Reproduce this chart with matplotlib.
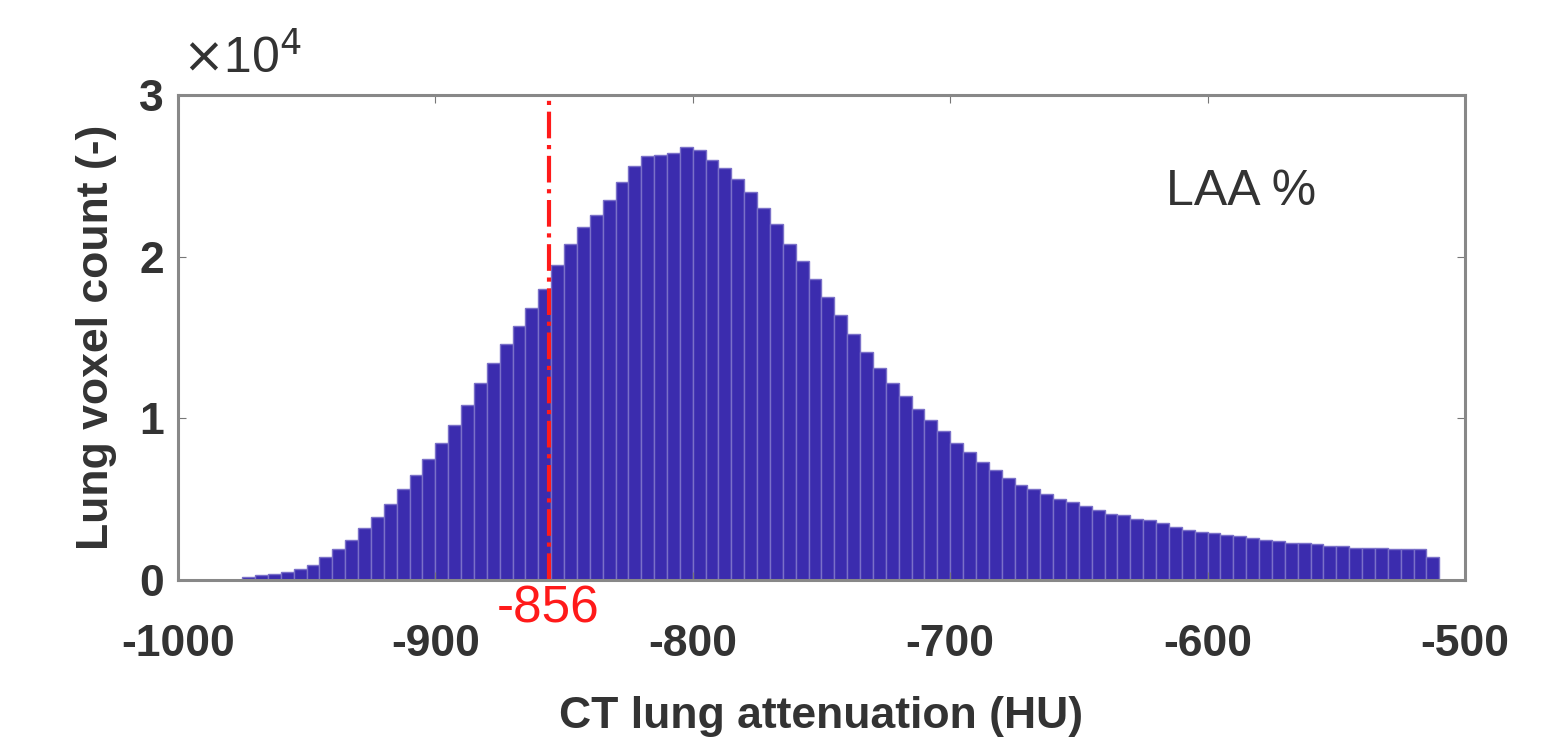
import numpy as np
import matplotlib.pyplot as plt

# Histogram of lung attenuation, 5 HU bins starting at -975 HU
bin_start = -975
bin_width = 5
counts = [0.02, 0.03, 0.04, 0.05, 0.07, 0.09, 0.14, 0.19, 0.25, 0.32,
          0.39, 0.47, 0.56, 0.65, 0.75, 0.85, 0.96, 1.08, 1.22, 1.34,
          1.46, 1.57, 1.68, 1.80, 1.95, 2.08, 2.18, 2.26, 2.35, 2.46,
          2.56, 2.62, 2.63, 2.64, 2.68, 2.66, 2.60, 2.55, 2.48, 2.40,
          2.30, 2.20, 2.08, 1.97, 1.86, 1.75, 1.64, 1.52, 1.41, 1.31,
          1.22, 1.14, 1.06, 0.99, 0.92, 0.85, 0.79, 0.73, 0.68, 0.63,
          0.59, 0.56, 0.53, 0.50, 0.48, 0.46, 0.43, 0.41, 0.40, 0.38,
          0.37, 0.35, 0.33, 0.31, 0.30, 0.29, 0.28, 0.27, 0.26, 0.25,
          0.24, 0.23, 0.23, 0.22, 0.21, 0.21, 0.20, 0.20, 0.20, 0.19,
          0.19, 0.19, 0.14]  # x 1e4 voxels
threshold = -856
xticks = [-1000, -900, -800, -700, -600, -500]
yticks = [0, 1, 2, 3]

counts = np.array(counts) * 1e4
left_edges = bin_start + bin_width * np.arange(len(counts))

plt.rcParams['font.family'] = ['Liberation Sans', 'DejaVu Sans']

fig = plt.figure(figsize=(15.47, 7.46), dpi=100)
ax = fig.add_axes([0.115, 0.2225, 0.832, 0.6503])

ax.bar(left_edges, counts, width=bin_width, align='edge',
       color='#3b2cae', edgecolor='#7a70c8', linewidth=1.0)

# threshold marker
ax.axvline(threshold, color='#ff1a1a', linestyle='-.', linewidth=3)
ax.text(threshold, -0.03e4, str(threshold), color='#ff1a1a', fontsize=37,
        ha='center', va='top')

ax.set_xlim(-1000, -500)
ax.set_ylim(0, 3e4)
ax.set_xticks(xticks)
ax.set_xticklabels([str(t) for t in xticks])
ax.set_yticks([t * 1e4 for t in yticks])
ax.set_yticklabels([str(t) for t in yticks])

for lab in ax.get_xticklabels() + ax.get_yticklabels():
    lab.set_fontweight('bold')
    lab.set_color('#333333')
ax.tick_params(axis='x', labelsize=32, pad=32, direction='in', length=6,
               top=True, color='#777777')
ax.tick_params(axis='y', labelsize=32, pad=10, direction='in', length=6,
               right=True, color='#777777')

for sp in ax.spines.values():
    sp.set_color('#888888')
    sp.set_linewidth(2.2)

ax.set_xlabel('CT lung attenuation (HU)', fontsize=32, fontweight='bold',
              color='#333333', labelpad=22)
ax.set_ylabel('Lung voxel count (-)', fontsize=32, fontweight='bold',
              color='#333333', labelpad=16)

ax.text(0.003, 1.025, r'$\times$10$^{4}$', transform=ax.transAxes, fontsize=36,
        color='#333333', ha='left', va='bottom')

ax.text(0.768, 0.8, 'LAA %', transform=ax.transAxes, fontsize=36,
        color='#333333', ha='left', va='center')

fig.savefig('out.png', dpi=100)
